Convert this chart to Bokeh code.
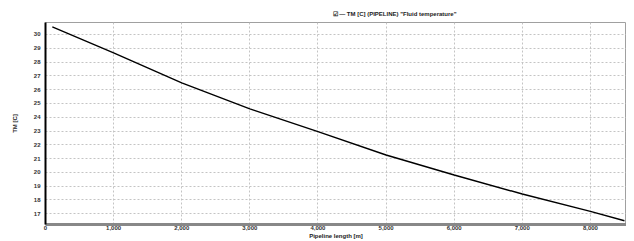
from bokeh.plotting import figure
from bokeh.models import FixedTicker, NumeralTickFormatter, Range1d
from bokeh.embed import file_html
from bokeh.resources import INLINE

# data
length_m = [100, 1000, 2000, 3000, 4000, 5000, 6000, 7000, 8000, 8500]
temp_c = [30.56, 28.67, 26.49, 24.60, 22.95, 21.26, 19.81, 18.43, 17.17, 16.49]
x_ticks = [0, 1000, 2000, 3000, 4000, 5000, 6000, 7000, 8000]
y_ticks = list(range(17, 31))
series_label = 'TM [C] (PIPELINE) "Fluid temperature"'

FONT = "Liberation Sans"
Y_LO, Y_HI = 16.22, 30.87

p = figure(width=626, height=241, output_backend="svg", toolbar_location=None,
           x_range=Range1d(0, 8530), y_range=Range1d(Y_LO, Y_HI),
           min_border_left=45, min_border_right=0, min_border_top=22, min_border_bottom=17)
p.background_fill_color = "white"
p.border_fill_color = "white"
p.outline_line_color = "#a0a0a0"
p.outline_line_width = 1

p.line(length_m, temp_c, line_color="black", line_width=1.4)

for ax in (p.xaxis[0], p.yaxis[0]):
    ax.major_tick_line_color = None
    ax.minor_tick_line_color = None
    ax.major_tick_out = 0
    ax.major_tick_in = 0
    ax.minor_tick_out = 0
    ax.minor_tick_in = 0
    ax.major_label_text_font = FONT
    ax.major_label_text_font_style = "bold"
    ax.major_label_text_font_size = "6px"
    ax.major_label_text_color = "#333333"
    ax.axis_label_text_font = FONT
    ax.axis_label_text_font_style = "bold"
    ax.axis_label_text_font_size = "6px"
    ax.axis_label_text_color = "#222222"

p.xaxis[0].ticker = FixedTicker(ticks=x_ticks)
p.xaxis[0].formatter = NumeralTickFormatter(format="0,0")
p.xaxis[0].axis_line_color = "#888888"
p.xaxis[0].axis_line_width = 3
p.xaxis[0].major_label_standoff = 1
p.xaxis[0].axis_label = "Pipeline length [m]"
p.xaxis[0].axis_label_standoff = 0

p.yaxis[0].ticker = FixedTicker(ticks=y_ticks)
p.yaxis[0].axis_line_color = "black"
p.yaxis[0].axis_line_width = 2
p.yaxis[0].major_label_standoff = 5
p.yaxis[0].axis_label = "TM [C]"
p.yaxis[0].axis_label_standoff = 13

for g in (p.xgrid[0], p.ygrid[0]):
    g.grid_line_color = "#c4c4c4"
    g.grid_line_dash = "2 2"
    g.grid_line_width = 1
p.xgrid[0].ticker = FixedTicker(ticks=x_ticks)
p.ygrid[0].ticker = FixedTicker(ticks=y_ticks)

p.title.text = "\u2611 \u2014 " + series_label
p.title.align = "left"
p.title.offset = 287
p.title.text_font = FONT
p.title.text_font_style = "bold"
p.title.text_font_size = "6px"
p.title.text_color = "#222222"
p.title.standoff = 12

open("out.html", "w").write(file_html(p, INLINE))
